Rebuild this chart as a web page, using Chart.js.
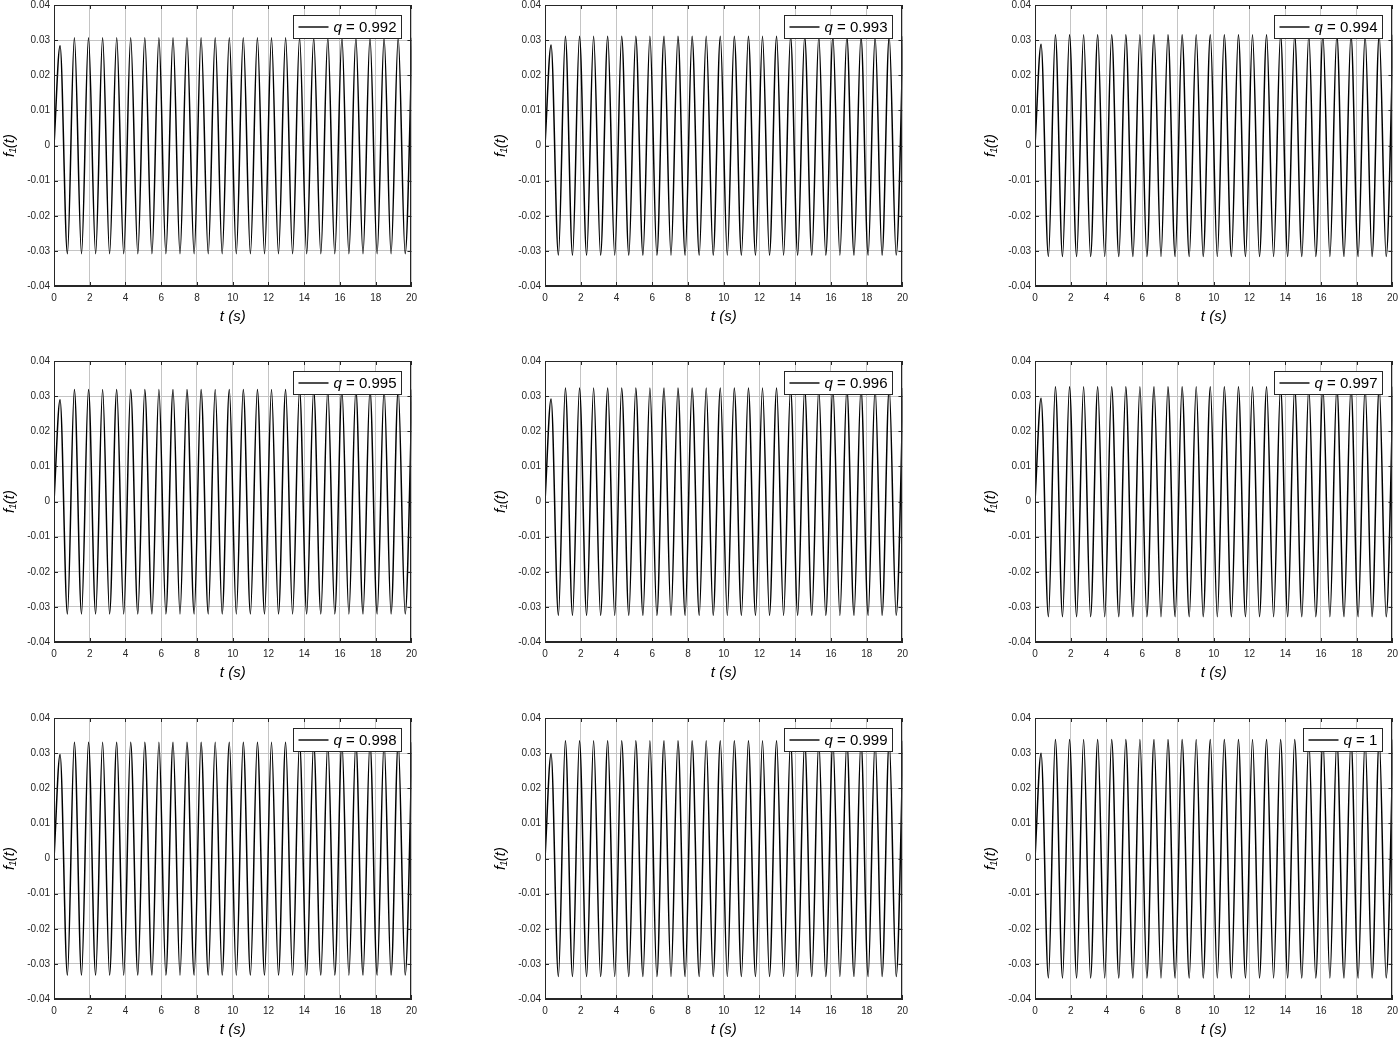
<!DOCTYPE html>
<html>
<head>
<meta charset="utf-8">
<script src="https://cdn.jsdelivr.net/npm/chart.js@4.4.1/dist/chart.umd.min.js"></script>
<style>
  html, body { margin: 0; padding: 0; background: #fff; }
  body { position: relative; width: 1400px; height: 1038px; overflow: hidden; }
  .panel { position: absolute; width: 423px; height: 335px; }
</style>
</head>
<body>
<script>
// one panel per fractional order q
const qLabels = ["0.992", "0.993", "0.994", "0.995", "0.996", "0.997", "0.998", "0.999", "1"];
const firstPeak = [0.0284, 0.0286, 0.0288, 0.0290, 0.0292, 0.0294, 0.0296, 0.0298, 0.0300];
const peakHigh = [0.0307, 0.0311, 0.0315, 0.0319, 0.0323, 0.0327, 0.0331, 0.0335, 0.0339];
const peakLow = [-0.0308, -0.0312, -0.0316, -0.0320, -0.0324, -0.0328, -0.0332, -0.0336, -0.0340];

// times (s) of the start, first peak, then alternating trough / peak
const extremaT = [0, 0.34,
  0.75, 1.14, 1.54, 1.93, 2.33, 2.72, 3.11, 3.51, 3.90, 4.29,
  4.69, 5.08, 5.48, 5.87, 6.26, 6.66, 7.05, 7.44, 7.84, 8.23,
  8.63, 9.02, 9.41, 9.81, 10.20, 10.59, 10.99, 11.38, 11.78, 12.17,
  12.56, 12.96, 13.35, 13.74, 14.14, 14.53, 14.93, 15.32, 15.71, 16.11,
  16.50, 16.89, 17.29, 17.68, 18.08, 18.47, 18.86, 19.26, 19.65, 20.04];

const xTicks = [0, 2, 4, 6, 8, 10, 12, 14, 16, 18, 20];
const yTicks = [-0.04, -0.03, -0.02, -0.01, 0, 0.01, 0.02, 0.03, 0.04];

// layout of the 3x3 grid (plot area corners)
const colLeft = [54, 545, 1035];
const rowTop = [5, 361, 718];
const FONT = "'Liberation Sans', Arial, 'DejaVu Sans', sans-serif";
const AXIS = "#262626";
const GRID = "#c4c4c4";

function buildSeries(i) {
  return extremaT.map((t, k) => {
    let y;
    if (k == 0) {
      y = 0;
    } else if (k == 1) {
      y = firstPeak[i];
    } else {
      y = k % 2 == 0 ? peakLow[i] : peakHigh[i];
    }
    return { x: t, y: y };
  });
}

function fmtY(v) {
  if (Math.abs(v) < 1e-9) return "0";
  return v.toFixed(2);
}

// box around the axes, inward ticks and the MATLAB-like legend
const framePlugin = {
  id: "frame",
  afterDatasetsDraw(chart) {
    const ctx = chart.ctx;
    const a = chart.chartArea;
    const xs = chart.scales.x;
    const ys = chart.scales.y;
    ctx.save();
    ctx.strokeStyle = AXIS;
    ctx.lineWidth = 1;
    ctx.beginPath();
    xTicks.forEach((v) => {
      const px = Math.round(xs.getPixelForValue(v)) + 0.5;
      ctx.moveTo(px, a.bottom);
      ctx.lineTo(px, a.bottom - 4);
      ctx.moveTo(px, a.top);
      ctx.lineTo(px, a.top + 4);
    });
    yTicks.forEach((v) => {
      const py = Math.round(ys.getPixelForValue(v)) + 0.5;
      ctx.moveTo(a.left, py);
      ctx.lineTo(a.left + 4, py);
      ctx.moveTo(a.right, py);
      ctx.lineTo(a.right - 4, py);
    });
    ctx.stroke();
    ctx.strokeRect(Math.round(a.left) + 0.5, Math.round(a.top) + 0.5,
      Math.round(a.right - a.left) - 1, Math.round(a.bottom - a.top) - 1);

    // legend
    const label = chart.data.datasets[0].label;
    const rest = " = " + label;
    ctx.font = "italic 15px " + FONT;
    const wq = ctx.measureText("q").width;
    ctx.font = "15px " + FONT;
    const wr = ctx.measureText(rest).width;
    const w = Math.round(5 + 30 + 5 + wq + wr + 5);
    const h = 23;
    const bx = Math.round(a.right - 10 - w) + 0.5;
    const by = Math.round(a.top + 10) + 0.5;
    ctx.fillStyle = "#fff";
    ctx.fillRect(bx, by, w, h);
    ctx.strokeStyle = AXIS;
    ctx.strokeRect(bx, by, w, h);
    ctx.strokeStyle = "#000";
    ctx.lineWidth = 1.4;
    ctx.beginPath();
    ctx.moveTo(bx + 5, by + h / 2);
    ctx.lineTo(bx + 35, by + h / 2);
    ctx.stroke();
    ctx.fillStyle = "#000";
    ctx.textBaseline = "middle";
    ctx.font = "italic 15px " + FONT;
    ctx.fillText("q", bx + 40, by + h / 2 + 1);
    ctx.font = "15px " + FONT;
    ctx.fillText(rest, bx + 40 + wq, by + h / 2 + 1);
    ctx.restore();
  },
};

for (let i = 0; i < qLabels.length; i++) {
  const col = i % 3;
  const row = Math.floor(i / 3);
  const div = document.createElement("div");
  div.className = "panel";
  div.style.left = colLeft[col] - 54 + "px";
  div.style.top = rowTop[row] - 10 + "px";
  const cv = document.createElement("canvas");
  cv.width = 423;
  cv.height = 335;
  div.appendChild(cv);
  document.body.appendChild(div);

  new Chart(cv, {
    type: "line",
    data: {
      datasets: [
        {
          label: qLabels[i],
          data: buildSeries(i),
          borderColor: "#000",
          borderWidth: 1.5,
          pointRadius: 0,
          cubicInterpolationMode: "monotone",
          fill: false,
        },
      ],
    },
    options: {
      responsive: false,
      animation: false,
      devicePixelRatio: 1,
      layout: { padding: { top: 10, right: 9, left: 0, bottom: 0 } },
      plugins: {
        legend: { display: false },
        tooltip: { enabled: false },
      },
      scales: {
        x: {
          type: "linear",
          min: 0,
          max: 20,
          afterBuildTicks: (s) => {
            s.ticks = xTicks.map((v) => ({ value: v }));
          },
          afterFit: (s) => {
            s.height = 44;
          },
          grid: { color: GRID, drawTicks: false },
          border: { color: AXIS, width: 1 },
          ticks: {
            font: { family: FONT, size: 10 },
            color: AXIS,
            padding: 6,
            maxRotation: 0,
            autoSkip: false,
          },
          title: {
            display: true,
            text: "t (s)",
            font: { family: FONT, size: 15, style: "italic" },
            color: "#000",
            padding: { top: 0, bottom: 4 },
          },
        },
        y: {
          type: "linear",
          min: -0.04,
          max: 0.04,
          afterBuildTicks: (s) => {
            s.ticks = yTicks.map((v) => ({ value: v }));
          },
          afterFit: (s) => {
            s.width = 54;
          },
          grid: { color: GRID, drawTicks: false },
          border: { color: AXIS, width: 1 },
          ticks: {
            font: { family: FONT, size: 10 },
            color: AXIS,
            padding: 4,
            callback: (v) => fmtY(v),
          },
          title: {
            display: true,
            text: "f\u2081(t)",
            font: { family: FONT, size: 15, style: "italic" },
            color: "#000",
            padding: { top: 1, bottom: 0 },
          },
        },
      },
    },
    plugins: [framePlugin],
  });
}
</script>
</body>
</html>
